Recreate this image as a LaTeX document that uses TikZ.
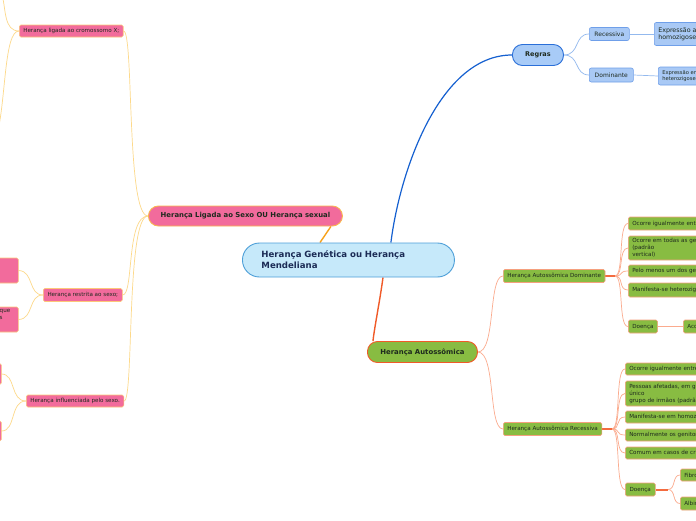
\documentclass[tikz,border=0pt]{standalone}
\usepackage{fontspec}
\setmainfont{DejaVu Sans}
\usetikzlibrary{calc}
\pgfdeclarelayer{background}
\pgfsetlayers{background,main}
\definecolor{rootfill}{HTML}{C6E9FA}
\definecolor{rootdraw}{HTML}{4D9FD8}
\definecolor{roottext}{HTML}{1B2B55}
\definecolor{bluemain}{HTML}{A8CBF7}
\definecolor{bluedraw}{HTML}{2A6FD8}
\definecolor{bluechild}{HTML}{A9C9F5}
\definecolor{bluecdraw}{HTML}{6F9FE9}
\definecolor{blueline}{HTML}{1560D0}
\definecolor{bluelight}{HTML}{93B9EE}
\definecolor{pinkfill}{HTML}{F26B9C}
\definecolor{pinkdraw}{HTML}{F8B84E}
\definecolor{pinkcdraw}{HTML}{FCC77A}
\definecolor{orangeline}{HTML}{F7A21B}
\definecolor{yellowline}{HTML}{FDD98A}
\definecolor{greenfill}{HTML}{88BC42}
\definecolor{greendraw}{HTML}{F05A28}
\definecolor{greencdraw}{HTML}{F5A07E}
\definecolor{salmonline}{HTML}{FBAB8E}
\definecolor{thickline}{HTML}{F46B3F}
\definecolor{darktext}{HTML}{1E2A1E}
\tikzset{
  base/.style={anchor=west, inner ysep=0pt, align=left},
  small/.style={font=\fontsize{5.6}{7}\selectfont},
  rootbox/.style={base, draw=rootdraw, fill=rootfill, line width=0.9pt, rounded corners=17pt,
     minimum height=34pt, inner xsep=19pt, text width=174pt, text=roottext,
     font=\fontsize{8.6}{11}\selectfont\bfseries},
  regbox/.style={base, draw=bluedraw, fill=bluemain, line width=0.9pt, rounded corners=10pt,
     minimum height=21pt, minimum width=51pt, align=center, text=darktext,
     font=\fontsize{6.5}{8}\selectfont\bfseries},
  bluebox/.style={base, draw=bluecdraw, fill=bluechild, line width=0.6pt, rounded corners=2pt,
     inner xsep=4pt, text=darktext, font=\fontsize{6}{7.5}\selectfont},
  sexbox/.style={base, draw=pinkdraw, fill=pinkfill, line width=0.9pt, rounded corners=10pt,
     minimum height=20pt, minimum width=194pt, align=center, text=darktext,
     font=\fontsize{6.9}{8}\selectfont\bfseries},
  pinkbox/.style={base, draw=pinkcdraw, fill=pinkfill, line width=0.6pt, rounded corners=1.5pt,
     inner xsep=4pt, text=darktext, small},
  autobox/.style={base, draw=greendraw, fill=greenfill, line width=0.9pt, rounded corners=10pt,
     minimum height=21pt, minimum width=110pt, align=center, text=darktext,
     font=\fontsize{6.9}{8}\selectfont\bfseries},
  greenbox/.style={base, draw=greencdraw, fill=greenfill, line width=0.6pt, rounded corners=1.5pt,
     inner xsep=4pt, text=darktext, small},
  cut/.style={text width=200pt},
  yl/.style={draw=yellowline, line width=0.7pt},
  bl/.style={draw=bluelight, line width=0.7pt},
  sl/.style={draw=salmonline, line width=0.7pt},
  tl/.style={draw=thickline, line width=2pt},
}
\begin{document}
\begin{tikzpicture}[x=1pt,y=-1pt]
\useasboundingbox (0,0) rectangle (696,520);
\clip (0,0) rectangle (696,520);

% ---------- nodes ----------
\node[rootbox] (root) at (242,260) {Herança Genética ou Herança\\Mendeliana};

\node[regbox] (regras) at (512,55) {Regras};
\node[bluebox, minimum height=13pt, minimum width=40pt] (rec) at (589,34) {Recessiva};
\node[bluebox, minimum height=14pt, minimum width=44pt] (dom) at (589,75) {Dominante};
\node[bluebox, cut, minimum height=23pt, font=\fontsize{6.3}{7.5}\selectfont] (expa) at (654,34) {Expressão apenas\\homozigose};
\node[bluebox, cut, minimum height=18pt, font=\fontsize{5.2}{6.3}\selectfont] (expb) at (658,76) {Expressão em\\heterozigose};

\node[sexbox] (sex) at (148,216) {Herança Ligada ao Sexo OU Herança sexual};
\node[pinkbox, minimum height=12pt, minimum width=103pt] (xl) at (19,31) {Herança ligada ao cromossomo X;};
\node[pinkbox, minimum height=13pt, minimum width=79pt] (restr) at (43,295) {Herança restrita ao sexo;};
\node[pinkbox, minimum height=12pt, minimum width=96pt] (influ) at (26,401) {Herança influenciada pelo sexo.};

\node[pinkbox, minimum height=25pt, minimum width=30pt] (lb1) at (-12,270.5) {};
\node[pinkbox, minimum height=25pt, minimum width=30pt] (lb2) at (-12,319.5) {};
\node[darktext, small, anchor=north west, inner sep=0pt, align=left] (lb2t) at (-0.5,309.5) {que\\s};
\node[pinkbox, minimum height=21pt, minimum width=13pt] (lb3) at (-12,374) {};
\node[pinkbox, minimum height=20pt, minimum width=13pt] (lb4) at (-12,431) {};

\node[autobox] (auto) at (367,352) {Herança Autossômica};
\node[greenbox, minimum height=13pt, minimum width=100pt] (ad) at (503,276) {Herança Autossômica Dominante};
\node[greenbox, minimum height=13pt, minimum width=96pt] (ar) at (503,429) {Herança Autossômica Recessiva};

\node[greenbox, cut, minimum height=13pt] (d1) at (628,223.5) {Ocorre igualmente entre os sexos};
\node[greenbox, cut, minimum height=24pt] (d2) at (628,248) {Ocorre em todas as gerações\\(padrão\\vertical)};
\node[greenbox, cut, minimum height=12pt] (d3) at (628,271) {Pelo menos um dos genitores é afetado};
\node[greenbox, cut, minimum height=14pt] (d4) at (628,290) {Manifesta-se heterozigose};
\node[greenbox, minimum height=13pt, minimum width=29pt] (dd) at (628,326.5) {Doença};
\node[greenbox, cut, minimum height=13pt] (aco) at (683,326.5) {Acondroplasia};

\node[greenbox, cut, minimum height=12pt] (r1) at (625,369) {Ocorre igualmente entre os sexos};
\node[greenbox, cut, minimum height=25pt] (r2) at (625,393.5) {Pessoas afetadas, em geral, em um\\único\\grupo de irmãos (padrão horizontal)};
\node[greenbox, cut, minimum height=12pt] (r3) at (625,417) {Manifesta-se em homozigose};
\node[greenbox, cut, minimum height=12pt] (r4) at (625,435) {Normalmente os genitores são normais};
\node[greenbox, cut, minimum height=12pt] (r5) at (625,453) {Comum em casos de cruzamentos consanguíneos};
\node[greenbox, minimum height=13pt, minimum width=30pt] (rd) at (625,489.5) {Doença};
\node[greenbox, cut, minimum height=12pt] (fib) at (680,475) {Fibrose cística};
\node[greenbox, cut, minimum height=13pt] (alb) at (680,503.5) {Albinismo};

\coordinate (xup) at (2,-6);
\coordinate (xdown) at (-3,135);
\coordinate (adj) at (615,276);
\coordinate (arj) at (612,429);
\coordinate (rdj) at (668,489.5);

% ---------- connectors ----------
\begin{pgfonlayer}{background}
\fill[white] (0,0) rectangle (696,520);
\draw[blueline, line width=1.2pt] ($(root.north east)+(-64,0)$)
   .. controls (400,170) and (440,55) .. (regras.west);
\draw[orangeline, line width=1.4pt] ($(root.north west)+(78,0)$) -- ($(sex.south east)+(-12,0)$);
\draw[greendraw, line width=1.4pt] ($(root.south west)+(141,0)$)
   .. controls (380,300) and (374,330) .. ($(auto.north west)+(6,0)$);

\draw[bl] (regras.east) .. controls (580,55) and (574,34) .. (rec.west);
\draw[bl] (regras.east) .. controls (580,55) and (574,75) .. (dom.west);
\draw[bl] (rec.east) -- (expa.west);
\draw[bl] (dom.east) -- (expb.west);

\draw[yl] (sex.west) .. controls (126,216) and (134,31) .. (xl.east);
\draw[yl] (sex.west) .. controls (126,216) and (134,295) .. (restr.east);
\draw[yl] (sex.west) .. controls (126,216) and (134,401) .. (influ.east);
\draw[yl] (xl.west) .. controls (4,31) and (6,10) .. (xup);
\draw[yl] (xl.west) .. controls (4,31) and (6,100) .. (xdown);
\draw[yl] (restr.west) .. controls (28,295) and (34,271) .. (lb1.east);
\draw[yl] (restr.west) .. controls (28,295) and (34,319) .. (lb2.east);
\draw[yl] (influ.west) .. controls (10,401) and (16,374) .. (lb3.east);
\draw[yl] (influ.west) .. controls (10,401) and (16,431) .. (lb4.east);

\draw[sl] (auto.east) .. controls (496,352) and (488,276) .. (ad.west);
\draw[sl] (auto.east) .. controls (496,352) and (488,429) .. (ar.west);

\foreach \n in {d1,d2,d3,d4,dd}{
  \draw[sl] (adj) .. controls (624,276) and (618,0 |- \n.west) .. (\n.west);
}
\draw[tl] (ad.east) -- (adj);
\draw[sl] (dd.east) -- (aco.west);

\foreach \n in {r1,r2,r3,r4,r5,rd}{
  \draw[sl] (arj) .. controls (621,429) and (615,0 |- \n.west) .. (\n.west);
}
\draw[tl] (ar.east) -- (arj);
\draw[sl] (rdj) .. controls (676,489.5) and (672,0 |- fib.west) .. (fib.west);
\draw[sl] (rdj) .. controls (676,489.5) and (672,0 |- alb.west) .. (alb.west);
\draw[tl] (rd.east) -- (rdj);
\end{pgfonlayer}
\end{tikzpicture}
\end{document}
